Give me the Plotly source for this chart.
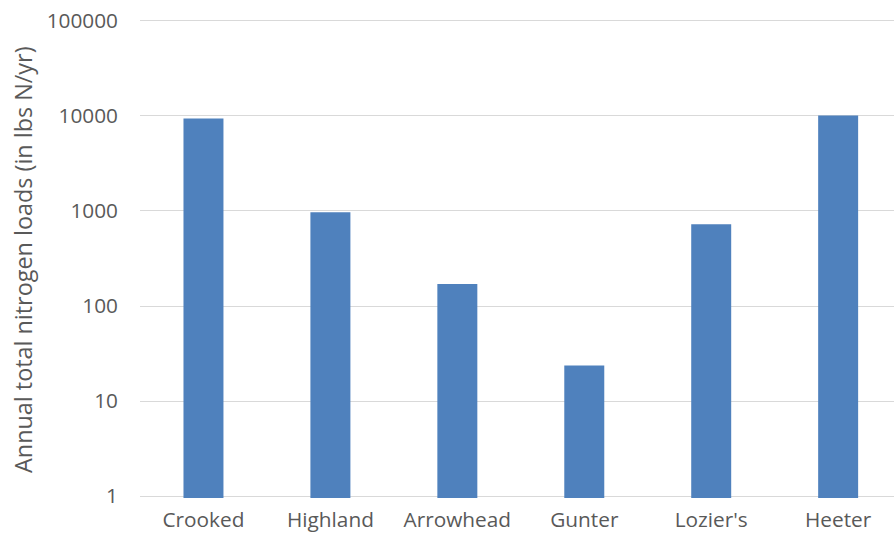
import plotly.graph_objects as go

categories = ["Crooked", "Highland", "Arrowhead", "Gunter", "Lozier's", "Heeter"]
loads = [9400, 970, 171, 23.7, 724, 10100]
y_tick_values = [1, 10, 100, 1000, 10000, 100000]
y_tick_labels = ["1", "10", "100", "1000", "10000", "100000"]

FONT = "Open Sans"
TEXT = "#595959"

fig = go.Figure()
fig.add_trace(go.Bar(
    x=categories, y=loads,
    marker=dict(color="#4f81bd", line=dict(width=0)),
    width=0.315,
))

W, H = 894, 539
ML, MR, MT, MB = 140, 0, 19, 41
fig.update_layout(
    width=W, height=H,
    margin=dict(l=ML, r=MR, t=MT, b=MB, autoexpand=False),
    paper_bgcolor="white", plot_bgcolor="white",
    showlegend=False,
    font=dict(family=FONT, color=TEXT, size=20),
    xaxis=dict(
        range=[-0.5, 5.44], showgrid=False, zeroline=False, showline=False,
        tickfont=dict(family=FONT, size=20.8, color=TEXT),
        ticks="", ticklabelstandoff=7, automargin=False,
    ),
    yaxis=dict(
        type="log", range=[-0.02, 5.02],
        tickvals=y_tick_values, ticktext=y_tick_labels,
        showgrid=True, gridcolor="#d9d9d9", gridwidth=1.3,
        zeroline=False, showline=False, ticks="",
        tickfont=dict(family=FONT, size=20.8, color=TEXT),
        ticklabelstandoff=21, automargin=False,
    ),
)
fig.add_annotation(
    text="Annual total nitrogen loads (in lbs N/yr)",
    xref="paper", yref="paper",
    x=(23 - ML) / (W - ML - MR), y=0.5 - 1.5 / (H - MT - MB),
    xanchor="center", yanchor="middle",
    textangle=-90, showarrow=False,
    font=dict(family=FONT, size=23.4, color=TEXT),
)

fig.write_html(
    "out.html",
    config={"displayModeBar": False},
    post_script="document.body.style.margin='0';",
)
